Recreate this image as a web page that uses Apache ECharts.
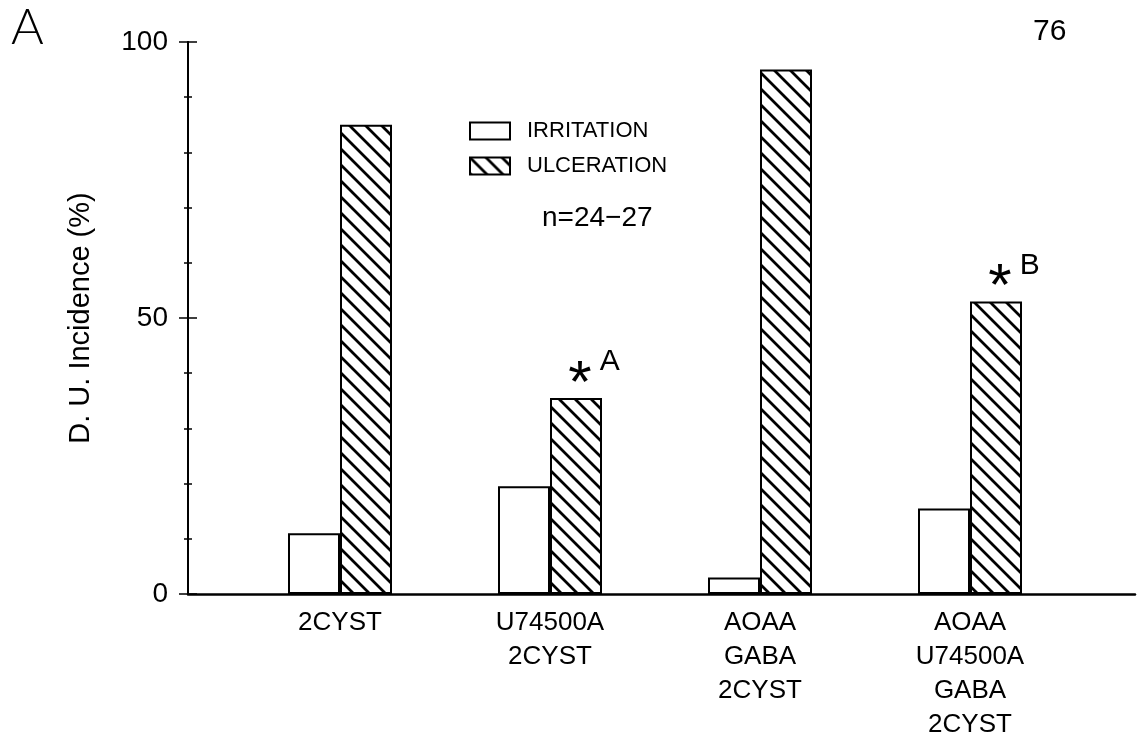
<!DOCTYPE html>
<html>
<head>
<meta charset="utf-8">
<script src="https://cdn.jsdelivr.net/npm/echarts@6/dist/echarts.min.js"></script>
<style>
  html, body { margin: 0; padding: 0; background: #fff; }
  #chart { width: 1140px; height: 750px; }
</style>
</head>
<body>
<div id="chart"></div>
<script>
const categories = ['2CYST', 'U74500A\n2CYST', 'AOAA\nGABA\n2CYST', 'AOAA\nU74500A\nGABA\n2CYST']
const irritation = [11, 19.5, 3, 15.5]
const ulceration = [85, 35.5, 95, 53]
const marks = ['', 'A', '', 'B']
const seriesNames = ['IRRITATION', 'ULCERATION']

const FONT = '"Liberation Sans", Arial, sans-serif'

// diagonal "\" hatch used for the ulceration bars
function hatch() {
  const s = 16
  const c = document.createElement('canvas')
  c.width = s
  c.height = s
  const g = c.getContext('2d')
  g.fillStyle = '#fff'
  g.fillRect(0, 0, s, s)
  g.strokeStyle = '#000'
  g.lineWidth = 2.8
  g.beginPath()
  for (const k of [-s, 0, s]) {
    g.moveTo(-s, -s + k)
    g.lineTo(2 * s, 2 * s + k)
  }
  g.stroke()
  return c
}

const chart = echarts.init(document.getElementById('chart'))

const yBase = {
  gridIndex: 0,
  type: 'value',
  min: 0,
  max: 100,
  interval: 50,
  position: 'left',
  axisLine: { show: true, lineStyle: { color: '#000', width: 2 } },
  splitLine: { show: false },
  minorTick: { show: true, splitNumber: 5, length: 4, lineStyle: { color: '#000', width: 1.5 } },
  minorSplitLine: { show: false }
}

const option = {
  animation: false,
  backgroundColor: '#fff',
  textStyle: { fontFamily: FONT, color: '#000' },
  grid: [
    { left: 188, right: 5, top: 42, bottom: 156 },
    { left: 235, width: 840, top: 42, bottom: 156 }
  ],
  legend: {
    orient: 'vertical',
    left: 469,
    top: 120,
    padding: 0,
    itemWidth: 40,
    itemHeight: 17,
    itemGap: 13,
    icon: 'rect',
    data: seriesNames,
    textStyle: { fontSize: 22, color: '#000', fontFamily: FONT, padding: [0, 0, 0, 12] }
  },
  graphic: [
    { type: 'text', left: 11, top: 3, style: { text: 'A', fontSize: 50, fontWeight: 300, fontFamily: 'Lato, ' + FONT, fill: '#000' } },
    { type: 'text', left: 1033, top: 17, style: { text: '76', fontSize: 30, fontFamily: FONT, fill: '#000' } },
    { type: 'text', left: 542, top: 204, style: { text: 'n=24\u221227', fontSize: 28, fontFamily: FONT, fill: '#000' } }
  ],
  xAxis: [
    {
      gridIndex: 0,
      type: 'value',
      min: 0,
      max: 1,
      axisLine: { show: true, onZero: false, lineStyle: { color: '#000', width: 2.5 } },
      axisTick: { show: false },
      axisLabel: { show: false },
      splitLine: { show: false }
    },
    {
      gridIndex: 1,
      type: 'category',
      data: categories,
      axisLine: { show: false },
      axisTick: { show: false },
      axisLabel: {
        fontSize: 26,
        lineHeight: 34,
        margin: 12,
        color: '#000',
        fontFamily: FONT,
        interval: 0,
        align: 'center'
      }
    }
  ],
  yAxis: [
    Object.assign({}, yBase, {
      axisTick: { show: true, length: 9, inside: false, lineStyle: { color: '#000', width: 1.5 } },
      axisLabel: { fontSize: 28, color: '#000', margin: 20, fontFamily: FONT },
      name: 'D. U. Incidence (%)',
      nameLocation: 'middle',
      nameGap: 93,
      nameTextStyle: { fontSize: 29, color: '#000', fontFamily: FONT }
    }),
    Object.assign({}, yBase, {
      axisTick: { show: true, length: 9, inside: true, lineStyle: { color: '#000', width: 1.5 } },
      axisLabel: { show: false }
    }),
    {
      gridIndex: 1,
      type: 'value',
      min: 0,
      max: 100,
      show: false
    }
  ],
  series: [
    {
      name: seriesNames[0],
      type: 'bar',
      xAxisIndex: 1,
      yAxisIndex: 2,
      barWidth: 52,
      barGap: '0%',
      itemStyle: { color: '#fff', borderColor: '#000', borderWidth: 2 },
      data: irritation
    },
    {
      name: seriesNames[1],
      type: 'bar',
      xAxisIndex: 1,
      yAxisIndex: 2,
      barWidth: 52,
      barGap: '0%',
      itemStyle: { color: { image: hatch(), repeat: 'repeat' }, borderColor: '#000', borderWidth: 2 },
      data: ulceration.map((v, i) => marks[i] ? {
        value: v,
        label: {
          show: true,
          position: 'top',
          distance: 2,
          offset: [18, 27],
          formatter: '{s|*}{t|' + marks[i] + '}',
          rich: {
            s: { fontSize: 60, fontFamily: FONT, color: '#000', lineHeight: 76, padding: [0, 8, 0, 0] },
            t: { fontSize: 30, fontFamily: FONT, color: '#000', verticalAlign: 'top', lineHeight: 12 }
          }
        }
      } : v)
    }
  ]
}

chart.setOption(option)
</script>
</body>
</html>
